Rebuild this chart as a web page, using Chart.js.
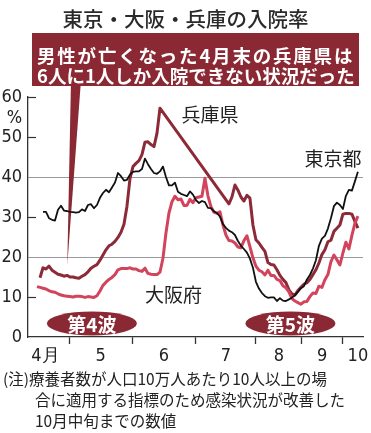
<!DOCTYPE html>
<html lang="ja">
<head>
<meta charset="utf-8">
<script src="https://cdn.jsdelivr.net/npm/chart.js@4.4.0/dist/chart.umd.min.js"></script>
<style>
  body { margin: 0; background: #fff; font-family: "Noto Sans CJK JP", sans-serif; }
  #wrap { position: relative; width: 371px; height: 433px; overflow: hidden; }
  #chart { position: absolute; left: 0; top: 0; }
  .title { position: absolute; left: 0; top: 5px; width: 371px; text-align: center; font-size: 20.5px; line-height: 26px; color: #2a2a2a; font-weight: 500; }
  .callout { position: absolute; left: 32px; top: 33px; width: 327px; height: 53px; background: #8a2934; color: #fff; font-weight: bold; font-size: 18.5px; line-height: 20px; box-sizing: border-box; padding: 12px 0 0 5px; }
  .callout div { white-space: nowrap; }
  .callout .l1 { letter-spacing: 1.8px; }
  .note { position: absolute; font-size: 15.5px; line-height: 21px; color: #222; white-space: nowrap; }
</style>
</head>
<body>
<div id="wrap">
  <canvas id="chart" width="371" height="433"></canvas>
  <div class="title">東京・大阪・兵庫の入院率</div>
  <div class="callout">
    <div class="l1">男性が亡くなった4月末の兵庫県は</div>
    <div>6人に1人しか入院できない状況だった</div>
  </div>
  <div class="note" style="left:3px; top:368px;">(注)療養者数が人口10万人あたり10人以上の場</div>
  <div class="note" style="left:35px; top:389px;">合に適用する指標のため感染状況が改善した</div>
  <div class="note" style="left:35px; top:410px;">10月中旬までの数値</div>
</div>
<script>
// Series values, one sample every step along the x axis (step index)
const tokyoStart = 5;
const tokyo = [31.3, 31.3, 29.7, 29.3, 29.1, 31.8, 32.8, 31.6, 31.5, 31.3, 31.2, 31.1, 31.2, 31.9, 31.5,
  33, 33.2, 32.2, 33, 34.8, 36, 36.8, 36.2, 37.4, 38.6, 41, 40.2, 39.1, 39.3, 40.6,
  41.3, 41.4, 41.4, 42, 44.6, 43.2, 42, 41, 40.8, 41.4, 42.6, 40, 37.9, 37.9, 38.6,
  36.3, 35.8, 35.5, 35.2, 36.4, 35.6, 34.2, 33.5, 34, 33.7, 32.3, 32.2, 31.4, 31, 30.1,
  28.2, 27.3, 26.6, 26.2, 25.5, 24, 22.8, 22, 21.1, 19.6, 17.3, 13.8, 12.1, 11, 10.2,
  9.8, 9.9, 9.9, 9, 9.7, 9.1, 9, 9.4, 9.9, 10.4, 11.3, 12.2, 12.7, 14.4, 15.5,
  17.1, 19.2, 22.8, 24.6, 25.3, 27.1, 29.7, 32.7, 33.6, 33, 32, 35.3, 36.8, 36.6, 38.9, 41.3];

const osakaStart = 3;
const osaka = [12.6, 12.4, 12.2, 12, 11.6, 11.3, 11.2, 10.8, 10.5, 10.3, 10.2, 10.1, 10, 10.2, 10.2,
  10.1, 9.9, 10.1, 10, 9.9, 10.3, 11.5, 12.9, 13.7, 14.4, 14.9, 15.6, 16.8, 17.1, 17.1,
  17.1, 17.3, 17, 17, 16.6, 16.4, 17.2, 15.9, 15.7, 15.6, 15.6, 16.2, 19.7, 26, 31,
  33.8, 35.2, 34.3, 34.5, 32.9, 32.9, 34.4, 33.6, 34.8, 35, 35.2, 39.7, 35.3, 32.6, 31.2,
  30.9, 31.3, 28, 25.5, 24.1, 24, 23.5, 22.5, 22.3, 24.1, 25.3, 22.6, 19.8, 17.7, 16.7,
  16.3, 15.5, 16.7, 15.4, 15.4, 14.4, 14.1, 12.8, 12.3, 11.3, 9.6, 9, 8.6, 8.2, 8.8,
  8.9, 10.1, 11, 10.9, 12.7, 12.4, 14.3, 15.6, 18.8, 20.5, 19.3, 18, 21, 23.7, 22,
  25.4, 28.4, 30.2];

// Hyogo has no data from late May to early July (drawn as a straight line)
const hyogoStart = 4;
const hyogo = [14.8, 17.3, 17, 17.7, 16.7, 16.2, 15.7, 15.5, 15.2, 15.4, 15, 15, 14.8, 14.7, 15.2,
  15.6, 16.3, 17.2, 17.7, 18.1, 19.2, 20.5, 21.8, 22.8, 23.2, 23.9, 24.9, 26.2, 28.2, 32.7,
  39.6, 42.6, 43.4, 44.1, 45.6, 48.7, 48.8, 48.1, 47.6, 50.9, 57.2,
  null, null, null, null, null, null, null, null, null, null, null,
  null, null, null, null, null, null, null, null, null, null, null,
  33.3, 35, 38, 36.7, 35, 34, 35.4, 34.7, 28, 24.3, 23.5, 22.4, 21.4, 18.6, 18.1,
  18, 16.8, 15.4, 14.4, 13.6, 11.8, 10.8, 10.5, 11.6, 12.4, 13.2, 13.6, 14.4, 15.6, 16.8,
  18.5, 20.6, 21.8, 23.8, 24.2, 26.4, 27.2, 28, 30.7, 30.9, 30.9, 30.7, 28.9, 27.2];

// Axis: month boundaries and month label positions (in steps)
const monthEdges = [13.7, 35, 56, 76, 91.3, 105];
const monthLabels = ['4月', '5', '6', '7', '8', '9', '10'];
const monthLabelAt = [5.8, 24.2, 45.3, 66, 83.7, 98.1, 110];
const yTicks = [0, 10, 20, 30, 40, 50, 60];
const yGrid = [20, 40];

// Annotations
const seriesNames = ['東京都', '大阪府', '兵庫県'];
const nameAt = [[101.7, 44.6], [48.5, 10.5], [60.7, 55.5]];
const waveNames = ['第4波', '第5波'];
const waveAt = [[21.3, 3.4], [87.5, 3.4]];
const pointerAt = [13.1, 18];

const maroon = '#8a2934';
const tickFont = "'Liberation Sans Narrow', 'DejaVu Sans Condensed', 'Liberation Sans', sans-serif";
const cjk = '"Noto Sans CJK JP", sans-serif';

function toPoints(start, values) {
  return values.map((v, k) => ({ x: start + k, y: v }));
}

const decor = {
  id: 'decor',
  beforeDatasetsDraw(chart) {
    const { ctx, chartArea: a, scales: { x, y } } = chart;
    ctx.save();
    // short inner ticks on the y axis
    ctx.strokeStyle = '#333';
    ctx.lineWidth = 1.2;
    yTicks.filter(v => v !== 0 && !yGrid.includes(v)).forEach(v => {
      const py = Math.round(y.getPixelForValue(v)) + 0.5;
      ctx.beginPath();
      ctx.moveTo(a.left, py);
      ctx.lineTo(a.left + 8, py);
      ctx.stroke();
    });
    // pointer of the callout box
    ctx.fillStyle = maroon;
    ctx.beginPath();
    ctx.moveTo(71, 80);
    ctx.lineTo(81, 80);
    ctx.lineTo(x.getPixelForValue(pointerAt[0]), y.getPixelForValue(pointerAt[1]));
    ctx.closePath();
    ctx.fill();
    // % unit
    ctx.fillStyle = '#222';
    ctx.font = '18px ' + tickFont;
    ctx.textAlign = 'center';
    ctx.textBaseline = 'middle';
    ctx.fillText('%', 14.5, y.getPixelForValue(54.6));
    ctx.restore();
  },
  afterDatasetsDraw(chart) {
    const { ctx, scales: { x, y } } = chart;
    ctx.save();
    ctx.textAlign = 'center';
    ctx.textBaseline = 'middle';
    waveNames.forEach((name, k) => {
      const cx = x.getPixelForValue(waveAt[k][0]);
      const cy = y.getPixelForValue(waveAt[k][1]);
      ctx.fillStyle = maroon;
      ctx.beginPath();
      ctx.ellipse(cx, cy, 45, 12, 0, 0, Math.PI * 2);
      ctx.fill();
      ctx.fillStyle = '#fff';
      ctx.font = 'bold 19px ' + cjk;
      ctx.fillText(name, cx, cy + 1);
    });
    ctx.fillStyle = '#222';
    ctx.font = '19px ' + cjk;
    seriesNames.forEach((name, k) => {
      ctx.fillText(name, x.getPixelForValue(nameAt[k][0]), y.getPixelForValue(nameAt[k][1]));
    });
    ctx.restore();
  }
};

new Chart(document.getElementById('chart'), {
  type: 'line',
  data: {
    datasets: [
      { label: seriesNames[0], data: toPoints(tokyoStart, tokyo), borderColor: '#111', borderWidth: 1.8 },
      { label: seriesNames[1], data: toPoints(osakaStart, osaka), borderColor: '#d2445c', borderWidth: 3 },
      { label: seriesNames[2], data: toPoints(hyogoStart, hyogo), borderColor: '#8c2a38', borderWidth: 3, spanGaps: true }
    ]
  },
  options: {
    responsive: false,
    animation: false,
    devicePixelRatio: 1,
    layout: { padding: { left: 0, top: 97, right: 8, bottom: 66 } },
    elements: { point: { radius: 0 }, line: { tension: 0, borderJoinStyle: 'round' } },
    plugins: { legend: { display: false }, tooltip: { enabled: false } },
    scales: {
      x: {
        type: 'linear',
        min: 0,
        max: 111.7,
        afterBuildTicks: scale => {
          scale.ticks = monthEdges.concat(monthLabelAt).sort((a, b) => a - b).map(v => ({ value: v }));
        },
        afterFit: scale => { scale.height = 30; },
        border: { color: '#333', width: 1.3 },
        grid: {
          drawOnChartArea: false,
          tickLength: 7,
          tickWidth: 1.3,
          tickColor: c => monthEdges.includes(c.tick.value) ? '#333' : 'rgba(0,0,0,0)'
        },
        ticks: {
          autoSkip: false,
          maxRotation: 0,
          padding: 2,
          color: '#222',
          font: { family: tickFont, size: 18 },
          callback: v => {
            const k = monthLabelAt.indexOf(v);
            return k >= 0 ? monthLabels[k] : '';
          }
        }
      },
      y: {
        min: 0,
        max: 60,
        afterBuildTicks: scale => { scale.ticks = yTicks.map(v => ({ value: v })); },
        afterFit: scale => { scale.width = 28; },
        border: { color: '#333', width: 1.3 },
        grid: {
          drawTicks: false,
          color: c => yGrid.includes(c.tick.value) ? '#9a9a9a' : 'rgba(0,0,0,0)',
          lineWidth: 1
        },
        ticks: {
          padding: 6,
          color: '#222',
          font: { family: tickFont, size: 18 }
        }
      }
    }
  },
  plugins: [decor]
});
</script>
</body>
</html>
